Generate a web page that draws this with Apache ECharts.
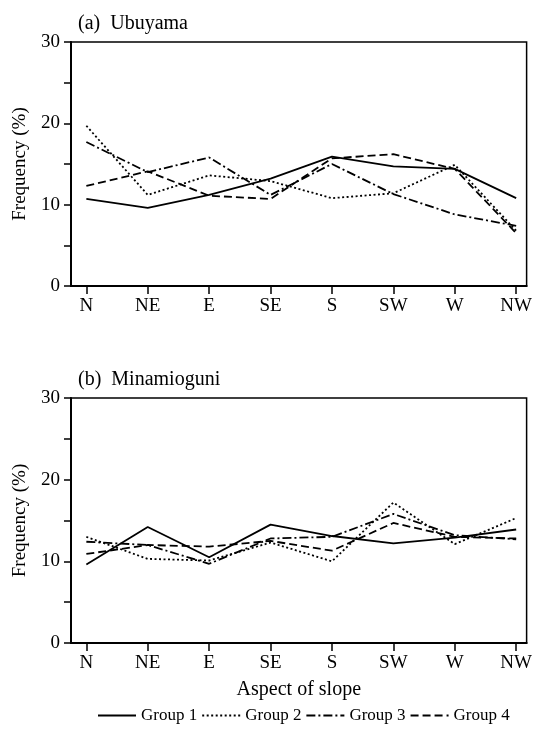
<!DOCTYPE html>
<html>
<head>
<meta charset="utf-8">
<script src="https://cdn.jsdelivr.net/npm/echarts@6/dist/echarts.min.js"></script>
<style>html,body{margin:0;padding:0;background:#fff}#c{width:535px;height:732px}</style>
</head>
<body>
<div id="c"></div>
<script>
var categories = ['N', 'NE', 'E', 'SE', 'S', 'SW', 'W', 'NW'];
var groupNames = ['Group 1', 'Group 2', 'Group 3', 'Group 4'];
var yTicks = [0, 10, 20, 30];

// (a) Ubuyama
var ubuG1 = [10.7, 9.6, 11.2, 13.2, 15.9, 14.7, 14.4, 10.8];
var ubuG2 = [19.7, 11.2, 13.6, 12.9, 10.8, 11.4, 14.9, 6.8];
var ubuG3 = [17.7, 14.0, 15.8, 11.2, 15.0, 11.3, 8.8, 7.4];
var ubuG4 = [12.3, 14.1, 11.1, 10.7, 15.7, 16.2, 14.4, 6.5];

// (b) Minamioguni
var minG1 = [9.6, 14.2, 10.5, 14.5, 13.1, 12.2, 12.9, 13.9];
var minG2 = [13.0, 10.3, 10.1, 12.3, 10.0, 17.2, 12.1, 15.3];
var minG3 = [12.4, 12.0, 9.7, 12.8, 13.0, 15.8, 13.2, 12.7];
var minG4 = [10.9, 12.0, 11.8, 12.5, 11.3, 14.7, 13.0, 12.8];

var FONT = 'Liberation Serif';
var dashes = ['solid', [2, 2.5], [9, 3, 2, 3], [8, 4]];
var idx = categories.map(function (c, i) { return i; });

function pairs(arr) { return arr.map(function (v, i) { return [i, v]; }); }

function xAxisFor(gi, withName) {
  var ax = {
    type: 'value', gridIndex: gi, min: -0.25, max: 7.17,
    axisLine: { show: true, onZero: false, lineStyle: { color: '#000', width: 2 } },
    axisTick: { show: true, inside: false, length: 8, customValues: idx, lineStyle: { color: '#000', width: 1.5 } },
    axisLabel: {
      customValues: idx, margin: 11, color: '#000', fontFamily: FONT, fontSize: 19,
      formatter: function (v) { return categories[Math.round(v)]; }
    },
    splitLine: { show: false }
  };
  if (withName) {
    ax.name = 'Aspect of slope';
    ax.nameLocation = 'middle';
    ax.nameGap = 37;
    ax.nameTextStyle = { color: '#000', fontFamily: FONT, fontSize: 20 };
  }
  return ax;
}

function yAxisFor(gi) {
  return {
    type: 'value', gridIndex: gi, min: 0, max: 30, interval: 5,
    name: 'Frequency (%)', nameLocation: 'middle', nameGap: 41,
    nameTextStyle: { color: '#000', fontFamily: FONT, fontSize: 19 },
    axisLine: { show: true, onZero: false, lineStyle: { color: '#000', width: 2 } },
    axisTick: { show: true, inside: false, length: 7, lineStyle: { color: '#000', width: 1.5 } },
    axisLabel: {
      customValues: yTicks, margin: 11, color: '#000', fontFamily: FONT, fontSize: 19,
      formatter: function (v) { return String(v); }
    },
    splitLine: { show: false }
  };
}

function seriesFor(gi, arrs) {
  return arrs.map(function (arr, k) {
    return {
      name: groupNames[k], type: 'line', xAxisIndex: gi, yAxisIndex: gi,
      data: pairs(arr), symbol: 'none', showSymbol: false,
      lineStyle: { color: '#000', width: 1.8, type: dashes[k] },
      itemStyle: { color: '#000' }, animation: false
    };
  });
}

var chart = echarts.init(document.getElementById('c'), null, { renderer: 'canvas' });
chart.setOption({
  backgroundColor: '#fff',
  animation: false,
  title: [
    { text: '(a)  Ubuyama', left: 78, top: 14, padding: 0,
      textStyle: { color: '#000', fontFamily: FONT, fontSize: 20, fontWeight: 'normal' } },
    { text: '(b)  Minamioguni', left: 78, top: 370, padding: 0,
      textStyle: { color: '#000', fontFamily: FONT, fontSize: 20, fontWeight: 'normal' } }
  ],
  grid: [
    { left: 71, right: 5, top: 42, height: 244, show: true, borderColor: '#000', borderWidth: 1.5, containLabel: false },
    { left: 71, right: 5, top: 398, height: 245, show: true, borderColor: '#000', borderWidth: 1.5, containLabel: false }
  ],
  xAxis: [xAxisFor(0, false), xAxisFor(1, true)],
  yAxis: [yAxisFor(0), yAxisFor(1)],
  legend: {
    data: groupNames, left: 97, top: 707, itemGap: 4, itemWidth: 38, itemHeight: 12,
    itemStyle: { opacity: 0, borderWidth: 0 },
    textStyle: { color: '#000', fontFamily: FONT, fontSize: 17 },
    padding: 0
  },
  series: seriesFor(0, [ubuG1, ubuG2, ubuG3, ubuG4]).concat(seriesFor(1, [minG1, minG2, minG3, minG4]))
});
</script>
</body>
</html>
